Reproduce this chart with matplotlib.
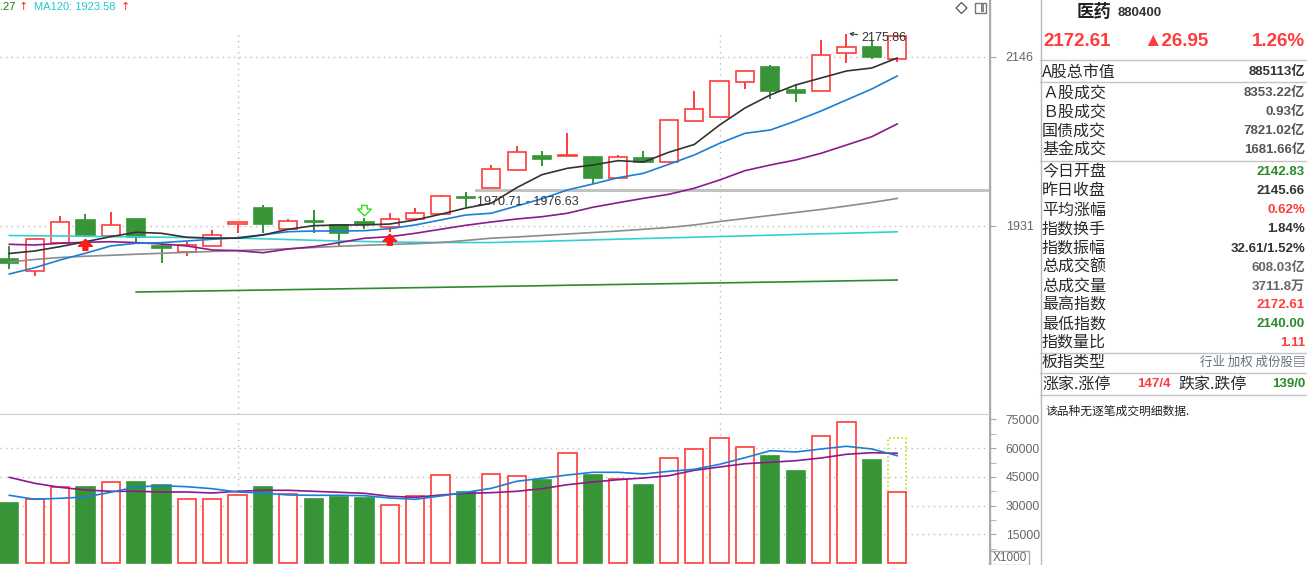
import numpy as np
import matplotlib.pyplot as plt
from matplotlib.patches import Rectangle, Polygon
from matplotlib.lines import Line2D

W, H = 1307, 565

# ---- daily candles (index 880400 医药) ----
opens = [1889.0, 1873.7, 1909.4, 1938.6, 1918.3, 1939.9, 1905.6, 1897.9, 1905.6, 1933.5,
         1953.9, 1927.2, 1937.4, 1932.3, 1936.1, 1929.7, 1939.9, 1946.3, 1968.5, 1979.3,
         2002.2, 2020.1, 2020.1, 2018.8, 1992.1, 2017.5, 2012.4, 2064.6, 2069.7, 2114.2,
         2133.3, 2104.0, 2102.7, 2151.1, 2158.7, 2142.83]
closes = [1883.9, 1914.5, 1936.1, 1919.5, 1932.3, 1917.0, 1903.0, 1906.8, 1919.5, 1936.1,
          1933.5, 1937.4, 1936.1, 1922.1, 1933.5, 1939.9, 1947.5, 1969.2, 1967.2, 2003.5,
          2025.1, 2016.2, 2021.3, 1992.1, 2018.8, 2012.4, 2065.9, 2079.8, 2115.5, 2128.2,
          2102.7, 2100.2, 2148.5, 2158.7, 2145.66, 2172.61]
highs = [1905.6, 1915.7, 1943.7, 1946.3, 1948.8, 1941.2, 1909.4, 1910.6, 1925.9, 1936.1,
         1957.7, 1939.9, 1951.4, 1932.3, 1941.2, 1947.5, 1953.9, 1970.4, 1974.3, 2008.6,
         2032.8, 2026.4, 2049.3, 2020.1, 2021.3, 2026.4, 2065.9, 2102.7, 2115.5, 2128.2,
         2135.8, 2111.7, 2167.6, 2175.86, 2166.4, 2172.61]
lows = [1876.3, 1867.4, 1909.4, 1917.0, 1918.3, 1909.4, 1883.9, 1892.8, 1905.6, 1922.1,
        1922.1, 1927.2, 1922.1, 1904.3, 1927.2, 1923.4, 1939.9, 1946.3, 1955.2, 1979.3,
        2002.2, 2007.3, 2020.1, 1984.4, 1992.1, 2011.1, 2012.4, 2064.6, 2069.7, 2105.3,
        2092.6, 2088.8, 2102.7, 2138.4, 2143.5, 2140.00]

# moving averages of price
ma5 = [1896.0, 1899.2, 1904.7, 1911.0, 1917.4, 1923.0, 1921.7, 1916.6, 1915.4, 1915.4,
       1919.5, 1926.8, 1931.4, 1932.3, 1932.3, 1933.5, 1938.6, 1945.9, 1953.9, 1959.9,
       1979.7, 1996.3, 2004.4, 2008.6, 2014.1, 2012.4, 2024.8, 2034.7, 2059.5, 2081.1,
       2097.7, 2110.4, 2119.3, 2128.2, 2132.0, 2144.7]
ma10 = [1869.9, 1877.9, 1887.7, 1896.3, 1905.6, 1909.0, 1909.8, 1911.9, 1914.1, 1916.1,
        1919.9, 1923.7, 1924.6, 1924.6, 1925.0, 1927.6, 1932.3, 1938.6, 1945.0, 1947.2,
        1956.4, 1965.7, 1976.8, 1984.4, 1992.4, 1998.0, 2009.5, 2021.3, 2036.2, 2048.9,
        2053.1, 2064.6, 2077.3, 2091.3, 2105.3, 2121.8]
ma20 = [1907.7, 1906.8, 1909.0, 1910.3, 1911.0, 1909.8, 1908.1, 1905.6, 1900.5, 1899.6,
        1897.0, 1901.7, 1904.7, 1909.8, 1915.4, 1917.4, 1921.7, 1926.8, 1931.9, 1936.1,
        1939.9, 1942.8, 1947.2, 1954.8, 1960.6, 1966.2, 1971.3, 1979.0, 1989.5, 2001.4,
        2008.6, 2015.0, 2023.5, 2034.0, 2044.6, 2060.8]
ma60 = [1885.2, 1888.4, 1890.9, 1892.5, 1893.7, 1895.1, 1896.3, 1897.4, 1898.6, 1899.8,
        1900.8, 1902.0, 1903.6, 1905.2, 1906.4, 1907.5, 1908.5, 1910.0, 1912.6, 1915.5,
        1917.0, 1918.9, 1920.8, 1922.7, 1924.6, 1926.8, 1929.1, 1932.3, 1936.7, 1940.5,
        1944.4, 1948.2, 1952.0, 1956.4, 1960.9, 1966.0]
ma120 = [1918.9, 1918.5, 1918.3, 1917.9, 1917.5, 1917.1, 1916.7, 1916.4, 1916.0, 1915.5,
         1914.7, 1913.8, 1912.8, 1911.9, 1911.3, 1910.6, 1910.3, 1910.0, 1909.9, 1909.9,
         1910.8, 1911.5, 1912.4, 1913.3, 1914.2, 1915.0, 1915.9, 1916.7, 1917.6, 1918.4,
         1919.3, 1920.2, 1921.1, 1921.8, 1922.7, 1923.58]
ma250 = [np.nan] * 5 + [1847.0, 1847.5, 1848.0, 1848.5, 1849.0, 1849.5, 1850.0, 1850.5, 1851.0,
                         1851.5, 1852.0, 1852.5, 1853.0, 1853.5, 1854.0, 1854.5, 1855.0, 1855.6,
                         1856.1, 1856.6, 1857.1, 1857.6, 1858.1, 1858.6, 1859.1, 1859.6, 1860.1,
                         1860.6, 1861.2, 1861.7, 1862.27]

# volume (x1000)
volumes = [31400, 33300, 39600, 39700, 42200, 42300, 40600, 33300, 33300, 35400,
           39700, 35900, 33400, 34500, 34000, 30200, 34900, 45800, 37300, 46300,
           45300, 43500, 57300, 46000, 43700, 40800, 54700, 59400, 65200, 60500,
           55900, 48100, 66200, 73500, 53800, 37118]
vol_forecast = 65200
vol_ma5 = [35380, 33290, 33810, 34490, 36950, 39720, 40400, 39870, 38830, 37100,
           36580, 35540, 35380, 35380, 35170, 33970, 33290, 35010, 36950, 39040,
           42700, 44260, 45990, 47400, 47400, 46510, 47920, 48970, 51580, 55030,
           58690, 58010, 59580, 60990, 59580, 56070]
vol_ma10 = [44790, 41650, 39560, 38150, 37470, 37470, 37100, 37100, 36580, 37470,
            37990, 37990, 37470, 36950, 36430, 34860, 34330, 35540, 36430, 36740,
            37470, 38830, 40920, 42330, 43530, 44420, 45620, 48440, 50170, 51890,
            52630, 53460, 54870, 56810, 57640, 57330]

price_ticks = [2146, 1931]
vol_ticks = [15000, 30000, 45000, 60000, 75000]
vol_grid = [15000, 30000, 45000, 60000]
gap_low, gap_high = 1970.71, 1976.63
buy_marks = [3, 15]
sell_marks = [14]

RED = '#ff3b3b'
GREEN = '#379537'
NUM = ['Liberation Sans', 'Noto Sans CJK SC', 'DejaVu Sans']
CJK = ['Noto Sans CJK SC', 'DejaVu Sans']
GRIDC = '#bdbdbd'
DOT = (0, (1, 3))

fig = plt.figure(figsize=(W / 100, H / 100), dpi=100)
fig.patch.set_facecolor('white')

split = 414  # px, top of volume panel
ax = fig.add_axes([0, 1 - split / H, 989 / W, split / H])
axv = fig.add_axes([0, 0, 989 / W, 1 - split / H])

x = np.arange(len(opens))
xlim = (-0.367, 38.62)
for a in (ax, axv):
    a.set_xlim(*xlim)
    a.set_facecolor('white')
    for s in ('left', 'top', 'bottom'):
        a.spines[s].set_visible(False)
    a.spines['right'].set_color('#aaaaaa')
    a.yaxis.tick_right()
    a.set_xticks([])
    a.tick_params(axis='y', which='both', direction='out', length=5, color='#aaaaaa',
                  labelcolor='#666666', labelsize=9, pad=7)

ax.set_ylim(1691.8, 2218.5)
axv.set_ylim(-1045, 77867)

# ---- price panel ----
for t in price_ticks:
    ax.axhline(t, color=GRIDC, lw=1, ls=DOT, zorder=1)
for gx in (9, 28):
    ax.vlines(gx, 1691.8, 2176.5, color=GRIDC, lw=1, ls=DOT, zorder=1)

ax.fill_between([18.37, xlim[1]], gap_low + 3.3, gap_high + 1.9, color='#c3c3c3', lw=0, zorder=1.5)
ax.text(18.45, 1961.5, f'{gap_low} - {gap_high}', fontsize=9, color='#333333',
        va='center', ha='left', family=NUM, zorder=5)

bw = 0.72
for i in x:
    o, c, h, l = opens[i], closes[i], highs[i], lows[i]
    up = c >= o
    col = RED if up else GREEN
    top, bot = max(o, c), min(o, c)
    hgt = max(top - bot, 1.3)
    ax.add_patch(Rectangle((i - bw / 2, bot), bw, hgt, facecolor='white' if up else GREEN,
                           edgecolor=col, lw=1.2, zorder=2))
    if h > top:
        ax.vlines(i, top, h, color=col, lw=1.4, zorder=2)
    if l < bot:
        ax.vlines(i, l, bot, color=col, lw=1.4, zorder=2)

ax.plot(x, ma250, color='#2e8b2e', lw=1.2, zorder=3)
ax.plot(x, ma120, color='#33cfd6', lw=1.2, zorder=3)
ax.plot(x, ma60, color='#8c8c8c', lw=1.2, zorder=3)
ax.plot(x, ma20, color='#8b1a8b', lw=1.2, zorder=3)
ax.plot(x, ma10, color='#1a7fd6', lw=1.2, zorder=3)
ax.plot(x, ma5, color='#333333', lw=1.2, zorder=3)

for i in buy_marks:
    ax.annotate('', xy=(i, lows[i] - 3), xytext=(i, lows[i] - 17),
                arrowprops=dict(facecolor='#ff1a1a', edgecolor='#ff1a1a', width=3.5,
                                headwidth=10, headlength=5, shrink=0), zorder=4)
for i in sell_marks:
    ax.annotate('', xy=(i, highs[i] + 2.5), xytext=(i, highs[i] + 16),
                arrowprops=dict(facecolor='white', edgecolor='#33dd22', lw=1, width=4,
                                headwidth=10, headlength=5, shrink=0), zorder=4)

imax = int(np.argmax(highs))
ax.annotate(f'{highs[imax]:.2f}', xy=(imax + 0.1, highs[imax]), xytext=(imax + 0.6, 2170.0),
            fontsize=9, color='#333333', va='center', ha='left', family=NUM,
            arrowprops=dict(arrowstyle='->', color='#333333', lw=0.8, shrinkA=1, shrinkB=0,
                            mutation_scale=6), zorder=5)

ax.set_yticks(price_ticks)
ax.set_yticklabels([str(t) for t in price_ticks], family=NUM)

# ---- volume panel ----
for t in vol_grid:
    axv.axhline(t, color=GRIDC, lw=1, ls=DOT, zorder=1)
for gx in (9, 28):
    axv.vlines(gx, 0, 73700, color=GRIDC, lw=1, ls=DOT, zorder=1)

axv.add_patch(Rectangle((x[-1] - bw / 2, 0), bw, vol_forecast, facecolor='none',
                        edgecolor='#d4d400', lw=1.2, ls=(0, (1, 1.5)), zorder=1.8))
for i in x:
    up = closes[i] >= opens[i]
    axv.add_patch(Rectangle((i - bw / 2, 0), bw, volumes[i],
                            facecolor='white' if up else GREEN,
                            edgecolor=RED if up else GREEN, lw=1.2, zorder=2))
axv.plot(x, vol_ma10, color='#8b1a8b', lw=1.2, zorder=3)
axv.plot(x, vol_ma5, color='#1a7fd6', lw=1.2, zorder=3)

axv.set_yticks(vol_ticks)
axv.set_yticklabels([str(t) for t in vol_ticks], family=NUM, fontsize=8.7)
axv.set_yticks([7500, 22500, 37500, 52500, 67500], minor=True)
axv.spines['top'].set_visible(True)
axv.spines['top'].set_color('#cfcfcf')


def fx(px):
    return px / W


def fy(py):
    return 1 - py / H


def ftext(px, py, s, **kw):
    kw.setdefault('va', 'center')
    fig.text(fx(px), fy(py), s, **kw)


def hline(x0, x1, py, color='#c4c4c4', lw=1):
    fig.add_artist(Line2D([fx(x0), fx(x1)], [fy(py), fy(py)], color=color, lw=lw))


# axis extension, x1000 box
fig.add_artist(Line2D([fx(989.5), fx(989.5)], [0, 1], color='#aaaaaa', lw=1))
fig.add_artist(Rectangle((fx(990), fy(565)), fx(39), 14 / H, facecolor='white',
                         edgecolor='#aaaaaa', lw=1))
ftext(1010, 558, 'X1000', fontsize=8.5, color='#666666', ha='center', family=NUM)

# legend text at top left
ftext(0, 7, '.27', fontsize=8, color='#1a7a1a', family=NUM)
ftext(19, 7, '↑', fontsize=8, color='#ff2a2a', family=['DejaVu Sans'])
ftext(34, 7, 'MA120: 1923.58', fontsize=8, color='#22c8cc', family=NUM)
ftext(121, 7, '↑', fontsize=8, color='#ff2a2a', family=['DejaVu Sans'])

# icons at top right of chart
fig.add_artist(Polygon([[fx(956), fy(8)], [fx(961.5), fy(2.5)], [fx(967), fy(8)], [fx(961.5), fy(13.5)]],
                       closed=True, facecolor='white', edgecolor='#555555', lw=0.9))
fig.add_artist(Rectangle((fx(975), fy(13)), fx(11), 10 / H, facecolor='white',
                         edgecolor='#777777', lw=1))
fig.add_artist(Rectangle((fx(980.5), fy(11.5)), fx(4), 7 / H, facecolor='#888888', lw=0))

# ---- right info panel ----
fig.add_artist(Line2D([fx(1040.5), fx(1040.5)], [0, 1], color='#b8b8b8', lw=1))
ftext(1077, 12, '医药', fontsize=12.5, color='#222222', family=CJK, fontweight='bold')
ftext(1118, 13, '880400', fontsize=9.5, color='#333333', family=NUM, fontweight='bold')
ftext(1043, 42, '2172.61', fontsize=13.5, color=RED, family=NUM, fontweight='bold')
ftext(1143, 42, '▲26.95', fontsize=13.5, color=RED, family=['Liberation Sans', 'DejaVu Sans'],
      fontweight='bold')
ftext(1305, 42, '1.26%', fontsize=13.5, color=RED, family=NUM, fontweight='bold', ha='right')

for py in (60, 82, 161, 353, 373, 395):
    hline(1040, 1307, py)

rows = [
    (72, 'A股总市值', '885113亿', '#333333'),
    (93, 'Ａ股成交', '8353.22亿', '#555555'),
    (112, 'Ｂ股成交', '0.93亿', '#555555'),
    (131, '国债成交', '7821.02亿', '#555555'),
    (150, '基金成交', '1681.66亿', '#555555'),
    (172, '今日开盘', '2142.83', '#2a8a2a'),
    (191, '昨日收盘', '2145.66', '#333333'),
    (210, '平均涨幅', '0.62%', RED),
    (229.5, '指数换手', '1.84%', '#333333'),
    (248.5, '指数振幅', '32.61/1.52%', '#333333'),
    (267.5, '总成交额', '608.03亿', '#666666'),
    (286.5, '总成交量', '3711.8万', '#666666'),
    (305, '最高指数', '2172.61', RED),
    (324, '最低指数', '2140.00', '#2a8a2a'),
    (342.5, '指数量比', '1.11', RED),
]
for py, lab, val, col in rows:
    ftext(1042, py, lab, fontsize=11.5, color='#2a2a2a', family=CJK)
    ftext(1305, py, val, fontsize=9.5, color=col, family=NUM, fontweight='bold', ha='right')

ftext(1042, 362, '板指类型', fontsize=11.5, color='#2a2a2a', family=CJK)
ftext(1305, 362, '行业 加权 成份股▤', fontsize=9, color='#667080', family=CJK, ha='right')
ftext(1042, 384, '涨家.涨停', fontsize=11.5, color='#2a2a2a', family=CJK)
ftext(1137, 384, '147/4', fontsize=9.5, color=RED, family=NUM, fontweight='bold')
ftext(1178, 384, '跌家.跌停', fontsize=11.5, color='#2a2a2a', family=CJK)
ftext(1305, 384, '139/0', fontsize=9.5, color='#2a8a2a', family=NUM, fontweight='bold', ha='right')
ftext(1045, 411, '该品种无逐笔成交明细数据.', fontsize=8.5, color='#222222', family=CJK)

fig.savefig('out.png', dpi=100, facecolor='white')
